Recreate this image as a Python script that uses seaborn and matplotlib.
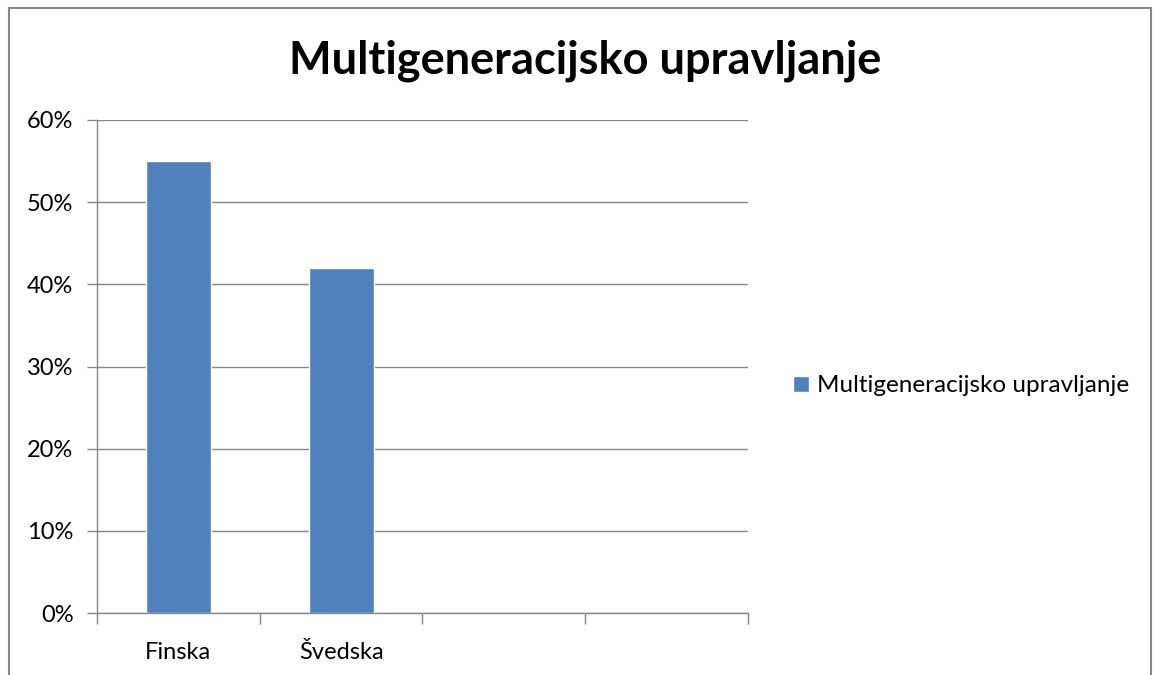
import matplotlib
matplotlib.use("Agg")
import matplotlib.pyplot as plt
import matplotlib.patches as mpatches
import seaborn as sns
import pandas as pd

# chart data
countries = ["Finska", "Švedska"]
shares = [0.55, 0.42]
n_slots = 4
series_name = "Multigeneracijsko upravljanje"
y_ticks = [0, 0.1, 0.2, 0.3, 0.4, 0.5, 0.6]

sns.set_theme(style="white")
plt.rcParams['font.family'] = ['Lato', 'DejaVu Sans']
plt.rcParams['text.color'] = 'black'
plt.rcParams['xtick.labelcolor'] = 'black'
plt.rcParams['ytick.labelcolor'] = 'black'

bar_color = "#4F81BD"
axis_gray = "#888888"

fig = plt.figure(figsize=(11.53, 6.75), dpi=100)
ax = fig.add_axes([97 / 1153, 1 - 613 / 675, (748 - 97) / 1153, (613 - 120) / 675])

df = pd.DataFrame({"country": countries, "share": shares})
sns.barplot(data=df, x="country", y="share", color=bar_color, saturation=1,
            width=0.4, label=series_name, ax=ax)

ax.set_xlim(-0.5, n_slots - 0.5)
ax.set_ylim(0, 0.6)
ax.set_yticks(y_ticks)
ax.set_yticklabels([f"{int(round(v * 100))}%" for v in y_ticks], fontsize=17)
ax.yaxis.grid(True, color=axis_gray, linewidth=1)
ax.set_axisbelow(True)

# category boundary ticks, labels centred on the bars
ax.set_xticks([i - 0.5 for i in range(n_slots + 1)])
ax.set_xticklabels([])
ax.set_xticks(range(len(countries)), minor=True)
ax.set_xticklabels(countries, minor=True, fontsize=17)
ax.tick_params(axis="x", which="major", length=8, color=axis_gray, width=1, direction="out", bottom=True)
ax.tick_params(axis="x", which="minor", length=0, pad=21)
ax.tick_params(axis="y", length=7, color=axis_gray, width=1, direction="out", left=True, pad=10)
ax.set_xlabel("")
ax.set_ylabel("")

for side in ["top", "right"]:
    ax.spines[side].set_visible(False)
for side in ["left", "bottom"]:
    ax.spines[side].set_color(axis_gray)
    ax.spines[side].set_linewidth(1)

fig.text(585 / 1153, 1 - 61 / 675, series_name, ha="center", va="center",
         fontsize=32.5, fontweight="bold", color="black")

ax.legend(loc="center left", bbox_to_anchor=(771 / 1153, 1 - 386 / 675),
          bbox_transform=fig.transFigure, frameon=False, fontsize=17.5,
          handlelength=0.65, handleheight=0.65, handletextpad=0.35)

# outer chart border (bottom edge falls outside the image)
fig.patches.append(mpatches.Rectangle((9 / 1153, -0.01), (1151 - 9) / 1153, 1.01 - 8 / 675,
                                      transform=fig.transFigure, fill=False,
                                      edgecolor=axis_gray, linewidth=1.5))

fig.savefig("out.png", dpi=100)
